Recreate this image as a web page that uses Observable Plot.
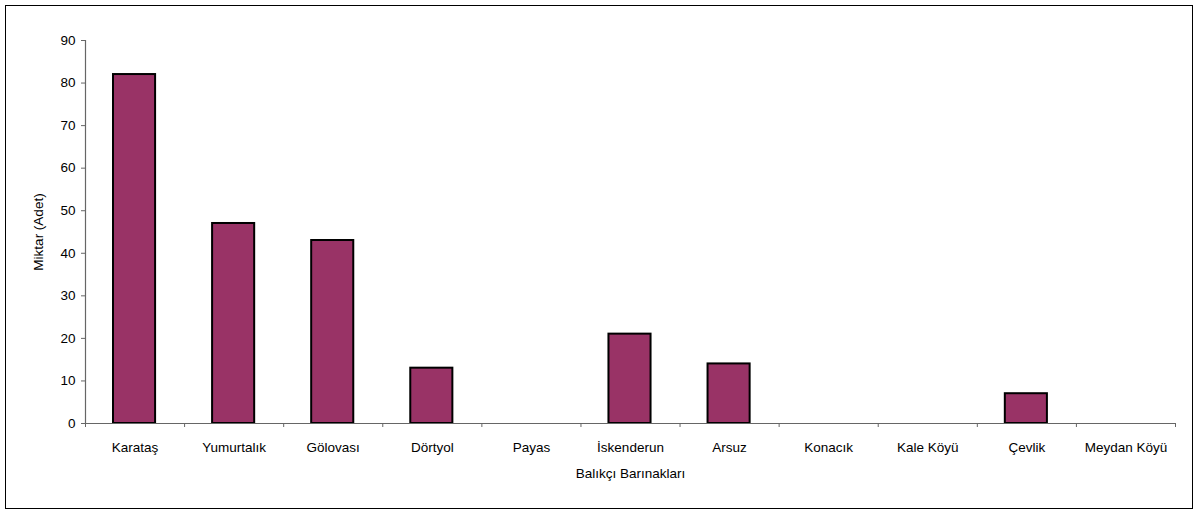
<!DOCTYPE html>
<html>
<head>
<meta charset="utf-8">
<script src="https://cdn.jsdelivr.net/npm/d3@7"></script>
<script src="https://cdn.jsdelivr.net/npm/@observablehq/plot@0.6"></script>
<style>
  html, body { margin: 0; padding: 0; background: #fff; }
  #wrap { position: relative; width: 1193px; height: 509px; }
  #border { position: absolute; left: 5px; top: 5px; width: 1186px; height: 502px; border: 1px solid #000; pointer-events: none; }
  svg { display: block; }
</style>
</head>
<body>
<div id="wrap"><div id="border"></div></div>
<script>
const categories = ["Karataş", "Yumurtalık", "Gölovası", "Dörtyol", "Payas", "İskenderun", "Arsuz", "Konacık", "Kale Köyü", "Çevlik", "Meydan Köyü"];
const values = [82, 47, 43, 13, 0, 21, 14, 0, 0, 7, 0];
const yTicks = [0, 10, 20, 30, 40, 50, 60, 70, 80, 90];
const xTitle = "Balıkçı Barınakları";
const yTitle = "Miktar (Adet)";

const data = categories.map((c, i) => ({category: c, index: i, value: values[i]}));
const boundaries = d3.range(categories.length + 1);
const centers = categories.map((c, i) => i + 0.5);

const font = "'Liberation Sans', Arial, sans-serif";
const axisColor = "#666";

const chart = Plot.plot({
  width: 1193,
  height: 509,
  marginLeft: 85,
  marginRight: 18,
  marginTop: 40,
  marginBottom: 86,
  style: {fontFamily: font, fontSize: "13.5px", color: "#000", background: "transparent", overflow: "visible"},
  x: {type: "linear", domain: [0, categories.length], axis: null},
  y: {domain: [0, 90], axis: null},
  marks: [
    Plot.rect(data.filter(d => d.value > 0), {
      x1: "index", x2: d => d.index + 1, y1: 0, y2: "value",
      insetLeft: 28, insetRight: 29,
      fill: "#993366", stroke: "#000", strokeWidth: 2
    }),
    Plot.ruleX([0], {y1: 0, y2: 90, stroke: axisColor, strokeWidth: 1.2}),
    Plot.ruleY([0], {stroke: axisColor, strokeWidth: 1.2}),
    Plot.axisY(yTicks, {anchor: "left", tickSize: 4, tickPadding: 6, stroke: axisColor, fill: "#000", fontSize: 13.5,
      label: yTitle, labelAnchor: "center", labelOffset: 52, labelArrow: false}),
    Plot.axisX(boundaries, {anchor: "bottom", tickSize: 4, tickFormat: () => "", stroke: axisColor, label: null}),
    Plot.axisX(centers, {anchor: "bottom", tickSize: 0, tickPadding: 19, tickFormat: v => categories[Math.round(v - 0.5)], fill: "#000", fontSize: 13.5, label: null}),
    Plot.text([xTitle], {text: d => d, frameAnchor: "bottom", dy: 54, fontSize: 13.5, fill: "#000"})
  ]
});
document.getElementById("wrap").appendChild(chart);
</script>
</body>
</html>
